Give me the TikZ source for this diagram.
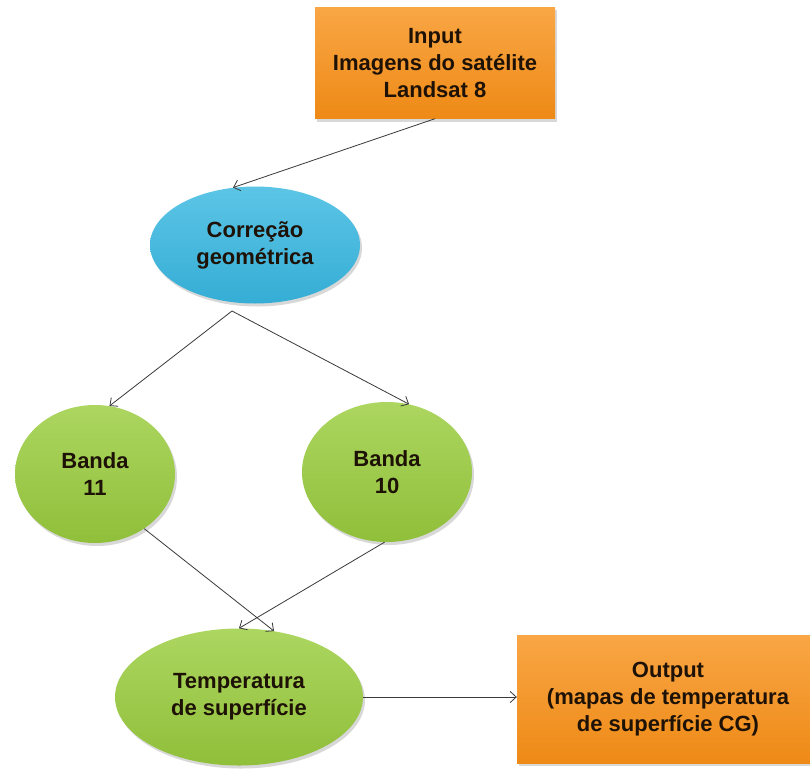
\documentclass[tikz,border=0pt]{standalone}
\usepackage{fontspec}
\setmainfont{Liberation Sans}
\usetikzlibrary{shapes.geometric,shadows,arrows.meta}

\definecolor{orangetop}{HTML}{F9A645}
\definecolor{orangemid}{HTML}{F7941F}
\definecolor{orangebot}{HTML}{EE8A16}
\definecolor{bluetop}{HTML}{5CC5E6}
\definecolor{bluemid}{HTML}{40B8DE}
\definecolor{bluebot}{HTML}{35ADD5}
\definecolor{greentop}{HTML}{ACD660}
\definecolor{greenmid}{HTML}{9CCA44}
\definecolor{greenbot}{HTML}{90BF3A}
\definecolor{txtdark}{HTML}{1E1206}
\definecolor{linegray}{HTML}{3A3A3A}

\begin{document}
\begin{tikzpicture}[x=1pt,y=-1pt,
    every node/.style={font=\bfseries\fontsize{22}{27}\selectfont,align=center,inner sep=0pt},
    shadowed/.style={drop shadow={shadow xshift=2pt,shadow yshift=-3pt,opacity=0.25,fill=black!60}},
    databox/.style={rectangle,shadowed,top color=orangetop,middle color=orangemid,bottom color=orangebot,text=txtdark},
    procoval/.style={ellipse,shadowed,top color=bluetop,middle color=bluemid,bottom color=bluebot,text=txtdark},
    bandoval/.style={ellipse,shadowed,top color=greentop,middle color=greenmid,bottom color=greenbot,text=txtdark},
    flow/.style={-{Straight Barb[length=6pt,width=11pt]},draw=linegray,line width=0.8pt}]
    \useasboundingbox[fill=white] (0,0) rectangle (810,768);

    % boxes and ovals
    \node[databox,minimum width=240,minimum height=111] (input) at (435,63)
        {Input\\Imagens do satélite\\Landsat 8};
    \node[procoval,minimum width=210,minimum height=117] (correc) at (255,245)
        {Correção\\geométrica};
    \node[bandoval,minimum width=160,minimum height=138] (b11) at (95,474) {Banda\\11};
    \node[bandoval,minimum width=170,minimum height=140] (b10) at (387,472) {Banda\\10};
    \node[bandoval,minimum width=248,minimum height=137] (temp) at (239,697)
        {Temperatura\\de superfície};
    \node[databox,minimum width=302,minimum height=128] (output) at (668,699)
        {Output\\(mapas de temperatura\\de superfície CG)};
    \coordinate (fork) at (232,311);

    % connectors
    \draw[flow] (input.south) -- (correc.111);
    \draw[flow] (fork) -- (b11.78);
    \draw[flow] (fork) -- (b10.72);
    \draw[flow] (b11.-48) -- (temp.62);
    \draw[flow] (b10.268) -- (temp.90);
    \draw[flow] (temp.east) -- (temp.east -| output.west);
\end{tikzpicture}
\end{document}
